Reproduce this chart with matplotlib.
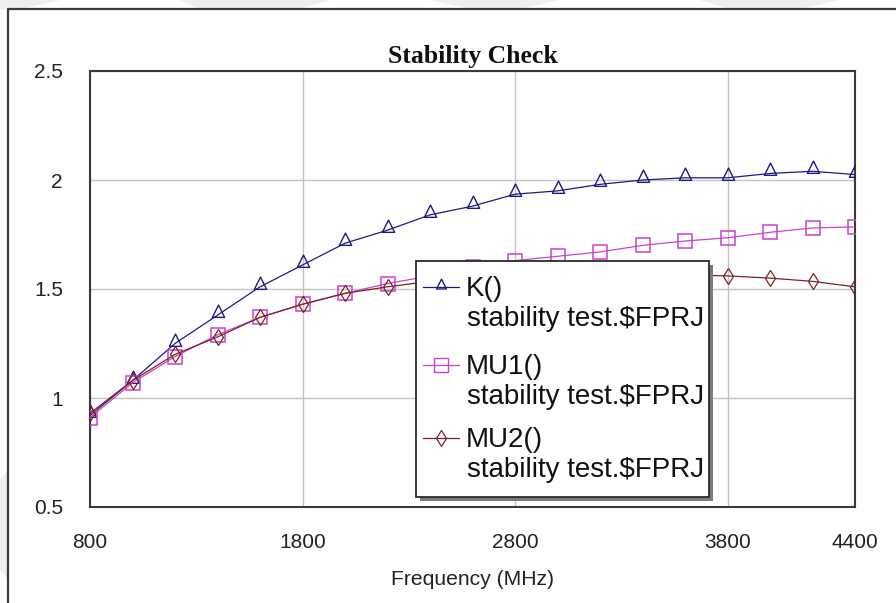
import matplotlib
matplotlib.use("Agg")
import matplotlib.pyplot as plt
from matplotlib.patches import Rectangle, Polygon
from matplotlib.path import Path
from matplotlib.lines import Line2D

# ---------------- data ----------------
freq_mhz = [800, 1000, 1200, 1400, 1600, 1800, 2000, 2200, 2400, 2600,
            2800, 3000, 3200, 3400, 3600, 3800, 4000, 4200, 4400]
k_vals = [0.92, 1.08, 1.25, 1.38, 1.51, 1.61, 1.71, 1.77, 1.84, 1.88,
          1.935, 1.95, 1.98, 2.00, 2.01, 2.01, 2.03, 2.04, 2.025]
mu1_vals = [0.91, 1.07, 1.19, 1.29, 1.37, 1.43, 1.48, 1.525, 1.56, 1.60,
            1.63, 1.65, 1.67, 1.70, 1.72, 1.735, 1.76, 1.78, 1.785]
mu2_vals = [0.93, 1.08, 1.20, 1.28, 1.37, 1.43, 1.48, 1.51, 1.535, 1.55,
            1.56, 1.565, 1.57, 1.57, 1.565, 1.56, 1.55, 1.535, 1.51]
series_names = ["K()", "MU1()", "MU2()"]
series_source = "stability test.$FPRJ"
x_ticks = [800, 1800, 2800, 3800, 4400]
y_ticks = [0.5, 1, 1.5, 2, 2.5]
y_tick_labels = ["0.5", "1", "1.5", "2", "2.5"]
title = "Stability Check"
x_label = "Frequency (MHz)"

# ---------------- style ----------------
W, H = 896, 603
fig = plt.figure(figsize=(W / 100, H / 100), dpi=100)
fig.patch.set_facecolor("white")

def fx(px):
    return px / W

def fy(py):
    return 1 - py / H

# faint background watermark shapes
wm = "#eeeeee"
for pts in [
    [(0, 0), (60, 0), (20, 9), (0, 9)],
    [(180, 0), (330, 0), (300, 9), (200, 9)],
    [(430, 0), (560, 0), (520, 9), (470, 9)],
    [(700, 0), (840, 0), (800, 9), (730, 9)],
    [(0, 480), (8, 470), (8, 580), (0, 570)],
]:
    fig.add_artist(Polygon([(fx(a), fy(b)) for a, b in pts], closed=True,
                           transform=fig.transFigure, facecolor=wm,
                           edgecolor="none", zorder=0))

# outer frame (left and top edges visible)
frame_col = "#3a3a3a"
fig.add_artist(Line2D([fx(8), fx(8), fx(W)], [fy(H), fy(9), fy(9)],
                      transform=fig.transFigure, color=frame_col, lw=1.6))

left, right, top, bottom = 90, 855, 71, 507
ax = fig.add_axes([fx(left), fy(bottom), fx(right) - fx(left), (bottom - top) / H])

sans = ["Liberation Sans", "Arial", "DejaVu Sans"]
serif = ["Liberation Serif", "Times New Roman", "DejaVu Serif"]

# custom triangle marker with its base near the data point
tri_path = Path([(-1.0, -0.3), (1.0, -0.3), (0.0, 1.7), (-1.0, -0.3)],
                [Path.MOVETO, Path.LINETO, Path.LINETO, Path.CLOSEPOLY])

k_col = "#1c1c80"
mu1_col = "#cc40cc"
mu2_col = "#7a2323"

ax.plot(freq_mhz, k_vals, color=k_col, lw=0.9, marker=tri_path, ms=15,
        mfc="none", mec=k_col, mew=1.0, zorder=3)
ax.plot(freq_mhz, mu1_vals, color=mu1_col, lw=0.9, marker="s", ms=9.5,
        mfc="none", mec=mu1_col, mew=1.1, zorder=3)
ax.plot(freq_mhz, mu2_vals, color=mu2_col, lw=0.9, marker="d", ms=8,
        mfc="none", mec=mu2_col, mew=0.9, zorder=3)

ax.set_xlim(800, 4400)
ax.set_ylim(0.5, 2.5)
ax.set_xticks(x_ticks)
ax.set_xticklabels([str(t) for t in x_ticks])
ax.set_yticks(y_ticks)
ax.set_yticklabels(y_tick_labels)
ax.grid(True, color="#c4c4c4", lw=1.0)
ax.set_axisbelow(True)
ax.tick_params(length=0, labelsize=15, colors="#222222")
ax.tick_params(axis="x", pad=18.5)
ax.tick_params(axis="y", pad=19.5)
for lab in ax.get_xticklabels() + ax.get_yticklabels():
    lab.set_family(sans)
for sp in ax.spines.values():
    sp.set_color("#3a3a3a")
    sp.set_linewidth(1.5)

ax.set_title(title, fontsize=18.5, fontweight="bold", family=serif,
             color="#111111", pad=6)
ax.set_xlabel(x_label, fontsize=15.2, family=sans, color="#222222", labelpad=13)

# ---------------- legend (drawn manually to match layout) ----------------
lx0, lx1, ly0, ly1 = 416, 709, 261, 497
shadow = Rectangle((fx(lx0 + 4), fy(ly1 + 4)), fx(lx1 - lx0), (ly1 - ly0) / H,
                   transform=fig.transFigure, facecolor="#7a7a7a",
                   edgecolor="none", zorder=8, clip_on=False)
box = Rectangle((fx(lx0), fy(ly1)), fx(lx1 - lx0), (ly1 - ly0) / H,
                transform=fig.transFigure, facecolor="white",
                edgecolor="#2a2a2a", lw=1.3, zorder=9, clip_on=False)
ax.add_patch(shadow)
ax.add_patch(box)

entry_styles = [
    (k_col, tri_path, 12, 1.0),
    (mu1_col, "s", 9.5, 1.0),
    (mu2_col, "d", 8, 0.9),
]
first_baselines = [296, 374, 447]
for name, (col, mk, ms, mew), b in zip(series_names, entry_styles, first_baselines):
    hy = b - 9
    ax.add_line(Line2D([fx(423), fx(459)], [fy(hy), fy(hy)], transform=fig.transFigure,
                       color=col, lw=0.9, zorder=10, clip_on=False))
    ax.add_line(Line2D([fx(441)], [fy(hy)], transform=fig.transFigure, color=col,
                       marker=mk, ms=ms, mfc="none", mec=col, mew=mew,
                       zorder=10, clip_on=False))
    ax.text(fx(466), fy(b), name, transform=fig.transFigure, fontsize=20,
            family=sans, va="baseline", ha="left", color="#111111", zorder=11)
    ax.text(fx(467), fy(b + 30), series_source, transform=fig.transFigure,
            fontsize=20, family=sans, va="baseline", ha="left", color="#111111",
            zorder=11)

fig.savefig("out.png", dpi=100, facecolor="white")
